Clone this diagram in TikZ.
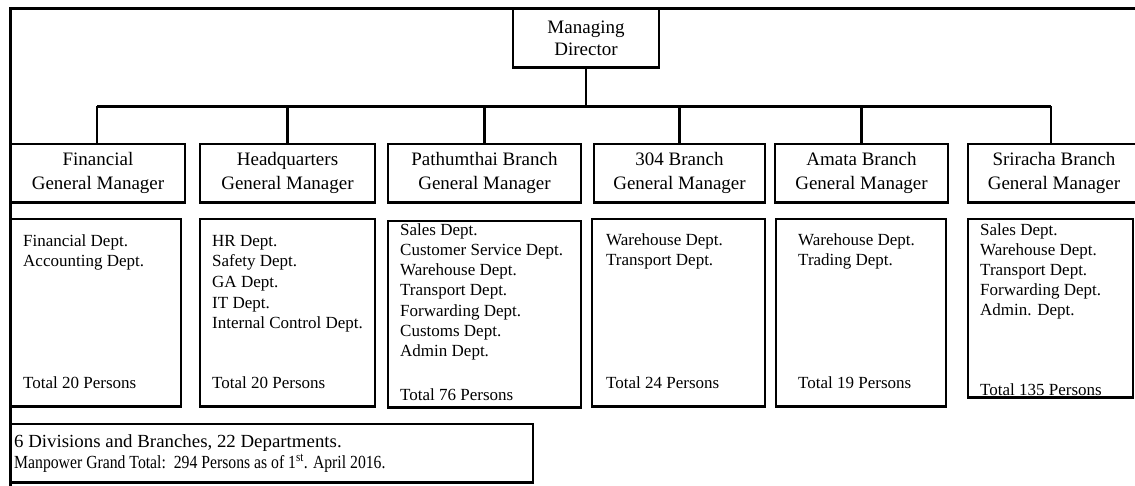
\documentclass[tikz,border=0pt]{standalone}
\usepackage{fontspec}
\usepackage{graphicx}
\setmainfont{Liberation Serif}
\newcommand\orgbox[7][]{\node[box,#1,minimum width={#5-#3},minimum height={#6-#4}] (#2) at ({(#3+#5)/2},{(#4+#6)/2}) {#7};
  \draw[boxbottom] (#2.south west) -- (#2.south east);}
\begin{document}
\begin{tikzpicture}[x=1pt,y=-1pt,
  box/.style={draw,line width=1.4pt,inner sep=0pt,align=center},
  boxbottom/.style={line width=2.8pt},
  frame/.style={line width=3pt},
  conn/.style={line width=2.6pt},
  gmtext/.style={font=\fontsize{19}{24}\selectfont},
  mdtext/.style={font=\fontsize{19}{22}\selectfont},
  dtext/.style={font=\fontsize{17}{20.7}\selectfont,align=left,anchor=base west,inner sep=0pt},
  ttext/.style={font=\fontsize{17}{20.7}\selectfont,anchor=base west,inner sep=0pt},
  btext/.style={font=\fontsize{18.5}{21}\selectfont,anchor=base west,inner sep=0pt},
]
\useasboundingbox (0,0) rectangle (1135,485);
\fill[white] (0,0) rectangle (1135,485);
% frame
\coordinate (tl) at (10,8);
\coordinate (tr) at (1140,8);
\coordinate (bl) at (10,490);
\draw[frame] (tr) -- (tl) -- (bl);
% managing director
\orgbox[mdtext]{md}{513}{9}{659}{67}{Managing\\Director}
% general managers
\orgbox[gmtext]{fgm}{11}{144}{185}{202}{Financial\\General Manager}
\orgbox[gmtext]{hgm}{200}{144}{375}{202}{Headquarters\\General Manager}
\orgbox[gmtext]{pgm}{388}{144}{581}{202}{Pathumthai Branch\\General Manager}
\orgbox[gmtext]{bgm}{594}{144}{765}{202}{304 Branch\\General Manager}
\orgbox[gmtext]{agm}{775}{144}{948}{202}{Amata Branch\\General Manager}
\orgbox[gmtext]{sgm}{968}{144}{1140}{202}{Sriracha Branch\\General Manager}
% connectors
\coordinate (busL) at (97,106);
\coordinate (busR) at (1051,106);
\draw[conn] (md.south) -- (md.south |- busL);
\draw[frame] (busL) -- (busR);
\draw[conn] (busL) -- (busL |- fgm.north);
\draw[conn] (hgm.north |- busL) -- (hgm.north);
\draw[conn] (pgm.north |- busL) -- (pgm.north);
\draw[conn] (bgm.north |- busL) -- (bgm.north);
\draw[conn] (agm.north |- busL) -- (agm.north);
\draw[conn] (busR) -- (busR |- sgm.north);
% department boxes
\orgbox{fd}{11}{219}{181}{406}{}
\orgbox{hd}{200}{219}{375}{406}{}
\orgbox{pd}{388}{221}{581}{407}{}
\orgbox{bd}{592}{219}{765}{406}{}
\orgbox{ad}{776}{219}{946}{406}{}
\orgbox{sd}{968}{219}{1133}{397}{}
% department texts (anchor = baseline of the last line)
\node[dtext] (fdl) at (23,266.7) {Financial Dept.\\Accounting Dept.};
\node[ttext] (fdt) at (23,388) {Total 20 Persons};
\node[dtext] (hdl) at (212,328.8) {HR Dept.\\Safety Dept.\\GA Dept.\\IT Dept.\\Internal Control Dept.};
\node[ttext] (hdt) at (212,388) {Total 20 Persons};
\node[dtext,font=\fontsize{17}{20.3}\selectfont] (pdl) at (400,356.8) {Sales Dept.\\Customer Service Dept.\\Warehouse Dept.\\Transport Dept.\\Forwarding Dept.\\Customs Dept.\\Admin Dept.};
\node[ttext] (pdt) at (400,400) {Total 76 Persons};
\node[dtext] (bdl) at (606,265.7) {Warehouse Dept.\\Transport Dept.};
\node[ttext] (bdt) at (606,388) {Total 24 Persons};
\node[dtext] (adl) at (798,265.7) {Warehouse Dept.\\Trading Dept.};
\node[ttext] (adt) at (798,388) {Total 19 Persons};
\node[dtext,font=\fontsize{17}{20}\selectfont] (sdl) at (980,315) {Sales Dept.\\Warehouse Dept.\\Transport Dept.\\Forwarding Dept.\\Admin. Dept.};
\node[ttext] (sdt) at (980,395) {Total 135 Persons};
% summary box
\orgbox{sum}{11}{424}{533}{482}{}
\node[btext] (s1) at (14,447) {\scalebox{1.02}[1]{6 Divisions and Branches, 22 Departments.}};
\node[btext] (s2) at (14,468) {\scalebox{0.85}[1]{Manpower Grand Total:\ \ 294 Persons as of 1\textsuperscript{st}. April 2016.}};
\end{tikzpicture}
\end{document}
